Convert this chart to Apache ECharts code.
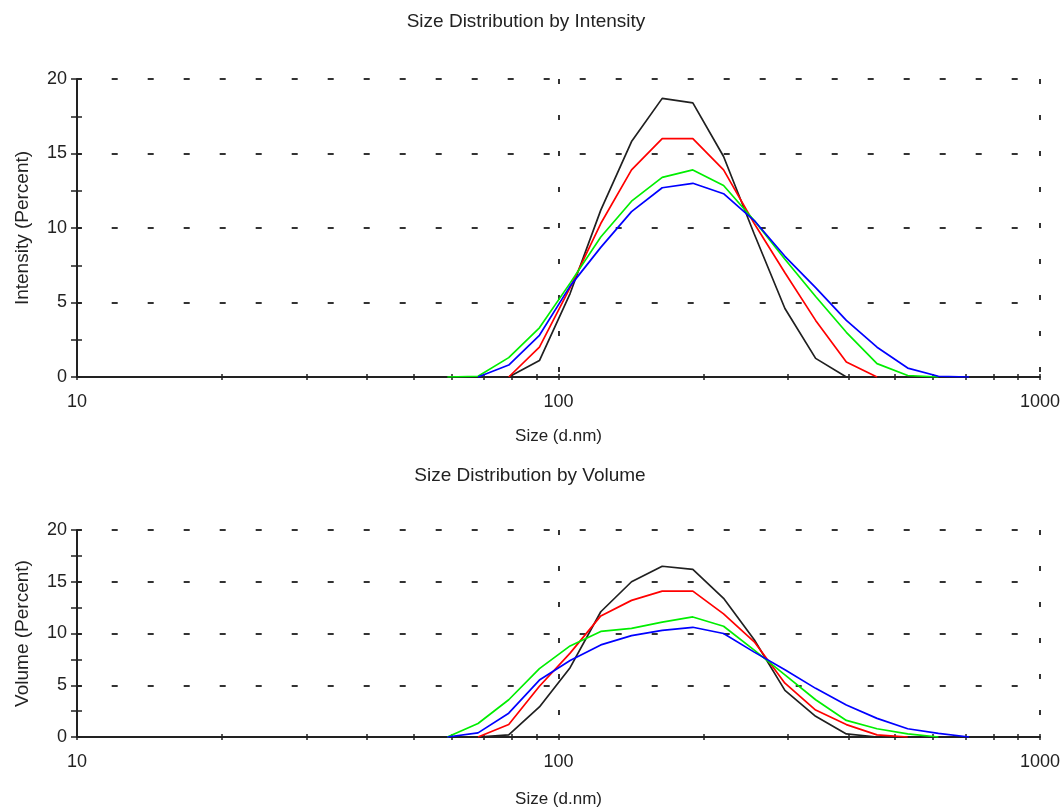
<!DOCTYPE html>
<html><head><meta charset="utf-8">
<script src="https://cdn.jsdelivr.net/npm/echarts@6/dist/echarts.min.js"></script>
<style>html,body{margin:0;padding:0;background:#fff}#c{width:1063px;height:807px}</style>
</head><body><div id="c"></div>
<script>
// Size bins (d.nm)
const sizes = [58.77, 68.06, 78.82, 91.28, 105.7, 122.4, 141.8, 164.2, 190.1, 220.2, 255.0, 295.3, 342.0, 396.1, 458.7, 531.2, 615.1, 712.4];

// Size Distribution by Intensity (%)
const intensityBlack = [null, null, 0, 1.1, 5.6, 11.2, 15.8, 18.7, 18.4, 14.8, 9.6, 4.6, 1.25, 0, null, null, null, null];
const intensityRed   = [null, null, 0, 2.0, 6.0, 10.3, 13.9, 16.0, 16.0, 13.9, 10.3, 7.0, 3.8, 1.0, 0, null, null, null];
const intensityGreen = [0, 0.05, 1.3, 3.3, 6.3, 9.4, 11.8, 13.4, 13.9, 12.85, 10.5, 7.9, 5.4, 3.0, 0.9, 0.1, 0, null];
const intensityBlue  = [null, 0, 0.8, 2.8, 6.1, 8.7, 11.1, 12.7, 13.0, 12.3, 10.5, 8.1, 6.0, 3.8, 2.0, 0.6, 0.05, 0];

// Size Distribution by Volume (%)
const volumeBlack = [null, 0, 0.2, 2.9, 6.7, 12.1, 15.0, 16.5, 16.2, 13.4, 9.4, 4.5, 2.0, 0.3, 0, null, null, null];
const volumeRed   = [null, 0, 1.2, 4.9, 8.1, 11.7, 13.2, 14.1, 14.1, 11.9, 9.2, 5.2, 2.6, 1.2, 0.2, 0, null, null];
const volumeGreen = [0, 1.3, 3.6, 6.6, 8.8, 10.2, 10.5, 11.1, 11.6, 10.7, 8.4, 6.0, 3.6, 1.6, 0.8, 0.3, 0, null];
const volumeBlue  = [0, 0.4, 2.3, 5.5, 7.4, 8.9, 9.8, 10.3, 10.6, 10.0, 8.2, 6.5, 4.7, 3.1, 1.8, 0.8, 0.35, 0];

// Axis ticks
const xTickValues = [10, 20, 30, 40, 50, 60, 70, 80, 90, 100, 200, 300, 400, 500, 600, 700, 800, 900, 1000];
const yMin = 0, yMax = 20, yStep = 5;

const titles = ['Size Distribution by Intensity', 'Size Distribution by Volume'];
const yNames = ['Intensity (Percent)', 'Volume (Percent)'];
const xName = 'Size (d.nm)';

const FONT = '"Liberation Sans", Arial, sans-serif';
const TXT = '#222';
const AX = '#222';

function pairs(vals) {
  const out = [];
  sizes.forEach((s, i) => { if (vals[i] !== null) out.push([s, vals[i]]); });
  return out;
}

const grids = [
  { left: 77, right: 23, top: 79, height: 298 },
  { left: 77, right: 23, top: 530, height: 207 }
];
const xNameGaps = [51, 54];

const xAxes = [], yAxes = [];
grids.forEach((g, gi) => {
  // main axis: line, labels, outward ticks
  xAxes.push({
    gridIndex: gi, type: 'log', logBase: 10, min: 10, max: 1000, position: 'bottom',
    axisLine: { show: true, onZero: false, lineStyle: { color: AX, width: 2 } },
    axisTick: { show: true, customValues: xTickValues, length: 3, lineStyle: { color: AX, width: 1.5 } },
    axisLabel: { show: true, margin: 16, color: TXT, fontFamily: FONT, fontSize: 18,
      formatter: v => String(Math.round(v)) },
    splitLine: { show: false },
    name: xName, nameLocation: 'middle', nameGap: xNameGaps[gi],
    nameTextStyle: { color: TXT, fontFamily: FONT, fontSize: 17 }
  });
  // inward ticks
  xAxes.push({
    gridIndex: gi, type: 'log', logBase: 10, min: 10, max: 1000, position: 'bottom',
    axisLine: { show: false, onZero: false },
    axisTick: { show: true, inside: true, customValues: xTickValues, length: 3, lineStyle: { color: AX, width: 1.5 } },
    axisLabel: { show: false },
    splitLine: { show: false }
  });
  // decade grid lines
  xAxes.push({
    gridIndex: gi, type: 'log', logBase: 10, min: 10, max: 1000, position: 'bottom',
    axisLine: { show: false, onZero: false },
    axisTick: { show: false },
    axisLabel: { show: false },
    splitLine: { show: true, lineStyle: { color: '#333', width: 2, type: [5, 31], dashOffset: 0 } }
  });
  yAxes.push({
    gridIndex: gi, type: 'value', min: yMin, max: yMax, interval: yStep, position: 'left',
    axisLine: { show: true, onZero: false, lineStyle: { color: AX, width: 2 } },
    axisTick: { show: true, length: 6, lineStyle: { color: AX, width: 1.5 } },
    minorTick: { show: true, splitNumber: 2, length: 6, lineStyle: { color: AX, width: 1.5 } },
    axisLabel: { margin: 10, color: TXT, fontFamily: FONT, fontSize: 18 },
    splitLine: { show: true, lineStyle: { color: '#333', width: 2, type: [6, 30], dashOffset: 1.3 } },
    name: yNames[gi], nameLocation: 'middle', nameGap: 45,
    nameTextStyle: { color: TXT, fontFamily: FONT, fontSize: 19 }
  });
  yAxes.push({
    gridIndex: gi, type: 'value', min: yMin, max: yMax, interval: yStep, position: 'left',
    axisLine: { show: false, onZero: false },
    axisTick: { show: true, inside: true, length: 5, lineStyle: { color: AX, width: 1.5 } },
    minorTick: { show: true, splitNumber: 2, length: 5, lineStyle: { color: AX, width: 1.5 } },
    axisLabel: { show: false },
    splitLine: { show: false }
  });
});

function line(name, vals, color, gi) {
  return {
    name, type: 'line', xAxisIndex: gi * 3, yAxisIndex: gi * 2,
    data: pairs(vals), symbol: 'none', smooth: false,
    lineStyle: { color, width: 1.7 }, itemStyle: { color }, z: 3
  };
}

const option = {
  animation: false,
  backgroundColor: '#ffffff',
  title: [
    { text: titles[0], left: 526, top: 12, textAlign: 'center', padding: 0,
      textStyle: { color: TXT, fontFamily: FONT, fontSize: 19, fontWeight: 'normal' } },
    { text: titles[1], left: 530, top: 466, textAlign: 'center', padding: 0,
      textStyle: { color: TXT, fontFamily: FONT, fontSize: 19, fontWeight: 'normal' } }
  ],
  grid: grids.map(g => Object.assign({ outerBoundsMode: 'none', containLabel: false }, g)),
  xAxis: xAxes,
  yAxis: yAxes,
  series: [
    line('Black (Intensity)', intensityBlack, '#202020', 0),
    line('Red (Intensity)', intensityRed, '#ff0000', 0),
    line('Green (Intensity)', intensityGreen, '#00ee00', 0),
    line('Blue (Intensity)', intensityBlue, '#0000ff', 0),
    line('Black (Volume)', volumeBlack, '#202020', 1),
    line('Red (Volume)', volumeRed, '#ff0000', 1),
    line('Green (Volume)', volumeGreen, '#00ee00', 1),
    line('Blue (Volume)', volumeBlue, '#0000ff', 1)
  ]
};

const chart = echarts.init(document.getElementById('c'), null, { renderer: 'canvas' });
chart.setOption(option);
</script>
</body></html>
